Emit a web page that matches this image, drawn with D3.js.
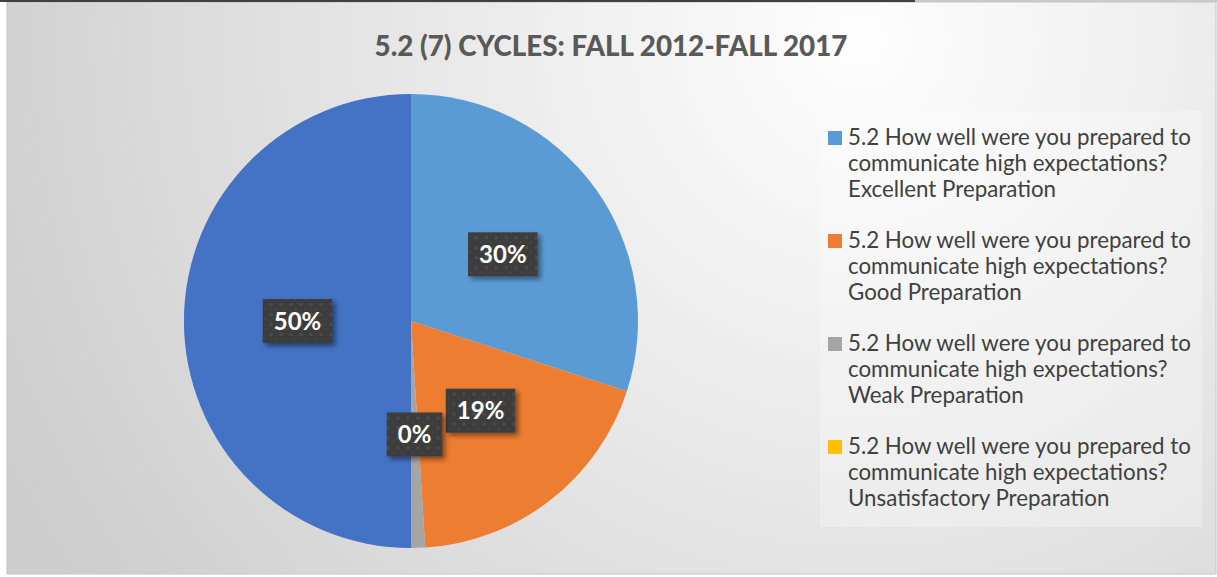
<!DOCTYPE html>
<html>
<head>
<meta charset="utf-8">
<script src="https://cdn.jsdelivr.net/npm/d3@7.9.0/dist/d3.min.js"></script>
<style>
  body { margin: 0; background: #fff; }
  svg { display: block; font-family: Lato, "Open Sans", sans-serif; }
</style>
</head>
<body>
<svg id="chart" width="1217" height="577"></svg>
<script>
// data
const categories = [
  "5.2 How well were you prepared to communicate high expectations? Excellent Preparation",
  "5.2 How well were you prepared to communicate high expectations? Good Preparation",
  "5.2 How well were you prepared to communicate high expectations? Weak Preparation",
  "5.2 How well were you prepared to communicate high expectations? Unsatisfactory Preparation",
  "Total"
];
const values = [30, 19, 1, 0, 50];
const valueLabels = ["30%", "19%", "0%", "0%", "50%"];
const legendLines = [
  ["5.2 How well were you prepared to", "communicate high expectations?", "Excellent Preparation"],
  ["5.2 How well were you prepared to", "communicate high expectations?", "Good Preparation"],
  ["5.2 How well were you prepared to", "communicate high expectations?", "Weak Preparation"],
  ["5.2 How well were you prepared to", "communicate high expectations?", "Unsatisfactory Preparation"]
];
const colors = ["#5B9BD5", "#ED7D31", "#A5A5A5", "#FFC000", "#4472C4"];
const title = "5.2 (7) CYCLES: FALL 2012-FALL 2017";

const svg = d3.select("#chart");
const W = 1217, H = 577;
const defs = svg.append("defs");

// background gradient
const bg = defs.append("radialGradient").attr("id", "bg")
  .attr("gradientUnits", "userSpaceOnUse")
  .attr("cx", 860).attr("cy", 40).attr("r", 950);
bg.append("stop").attr("offset", "0%").attr("stop-color", "#fefefe");
bg.append("stop").attr("offset", "40%").attr("stop-color", "#ebebeb");
bg.append("stop").attr("offset", "100%").attr("stop-color", "#cdcdcd");

// dotted pattern for data label boxes
const pat = defs.append("pattern").attr("id", "dots")
  .attr("patternUnits", "userSpaceOnUse").attr("width", 10).attr("height", 10);
pat.append("rect").attr("width", 10).attr("height", 10).attr("fill", "#3d3d3d");
pat.append("rect").attr("x", 2).attr("y", 2).attr("width", 3).attr("height", 3).attr("fill", "#4c4c4c");
pat.append("rect").attr("x", 7).attr("y", 7).attr("width", 2).attr("height", 2).attr("fill", "#474747");

const shadow = defs.append("filter").attr("id", "shadow")
  .attr("x", "-30%").attr("y", "-30%").attr("width", "160%").attr("height", "160%");
shadow.append("feDropShadow").attr("dx", 3).attr("dy", 3).attr("stdDeviation", 2.5)
  .attr("flood-color", "#000").attr("flood-opacity", 0.45);

// chart area
svg.append("rect").attr("x", 7).attr("y", 2).attr("width", W - 8).attr("height", H - 5)
  .attr("fill", "url(#bg)").attr("stroke", "#c4c4c4").attr("stroke-width", 1);
svg.append("rect").attr("x", 0).attr("y", 0).attr("width", 915).attr("height", 2).attr("fill", "#404040");
svg.append("rect").attr("x", 915).attr("y", 0).attr("width", W - 915).attr("height", 2).attr("fill", "#c8c8c8");

// fit a text element to a width seen in the picture
function fitWidth(sel, size, target) {
  sel.attr("font-size", size);
  const w = sel.node().getComputedTextLength();
  const s = size * target / w;
  sel.attr("font-size", s);
  return s;
}

const titleText = svg.append("text")
  .attr("x", 611).attr("y", 56)
  .attr("text-anchor", "middle")
  .attr("font-weight", 900)
  .attr("fill", "#595959")
  .text(title);
fitWidth(titleText, 25, 473);

// pie
const cx = 411, cy = 321, radius = 227;
const pie = d3.pie().sort(null).value(d => d.value);
const arcs = pie(values.map((v, i) => ({ value: v, label: valueLabels[i], color: colors[i] })));
const arc = d3.arc().innerRadius(0).outerRadius(radius);
const labelArc = d3.arc().innerRadius(radius * 0.5).outerRadius(radius * 0.5);

const g = svg.append("g").attr("transform", `translate(${cx},${cy})`);
g.selectAll("path")
  .data(arcs)
  .join("path")
  .attr("d", arc)
  .attr("fill", d => d.data.color);

// data labels
const lab = g.selectAll("g.lab")
  .data(arcs.filter(d => d.data.value > 0))
  .join("g")
  .attr("class", "lab")
  .attr("transform", d => `translate(${labelArc.centroid(d)})`);

lab.each(function(d) {
  const el = d3.select(this);
  const t = el.append("text")
    .attr("text-anchor", "middle")
    .attr("dy", "0.36em")
    .attr("font-weight", "bold")
    .attr("font-size", 24)
    .attr("fill", "#fff")
    .text(d.data.label);
  const w = t.node().getComputedTextLength() + 22;
  const h = 44;
  el.insert("rect", "text")
    .attr("x", -w / 2).attr("y", -h / 2)
    .attr("width", w).attr("height", h)
    .attr("fill", "url(#dots)")
    .attr("filter", "url(#shadow)");
});

// legend
const legend = svg.append("g").attr("transform", "translate(820,111)");
legend.append("rect").attr("width", 382).attr("height", 416)
  .attr("fill", "#ffffff").attr("fill-opacity", 0.28);

const item = legend.selectAll("g.item")
  .data(legendLines)
  .join("g")
  .attr("class", "item")
  .attr("transform", (d, i) => `translate(0,${i * 103})`);

item.append("rect")
  .attr("x", 8).attr("y", 20)
  .attr("width", 14).attr("height", 14)
  .attr("fill", (d, i) => colors[i]);

const legendText = item.append("text")
  .attr("fill", "#404040");
legendText.selectAll("tspan")
  .data(d => d)
  .join("tspan")
  .attr("x", 28)
  .attr("y", (d, j) => 34 + j * 26)
  .text(d => d);

// size the legend font so the first line spans the same width as in the picture
const probe = legend.append("text").text(legendLines[0][0]);
const legendSize = fitWidth(probe, 19.5, 343);
probe.remove();
legendText.attr("font-size", legendSize);
</script>
</body>
</html>
